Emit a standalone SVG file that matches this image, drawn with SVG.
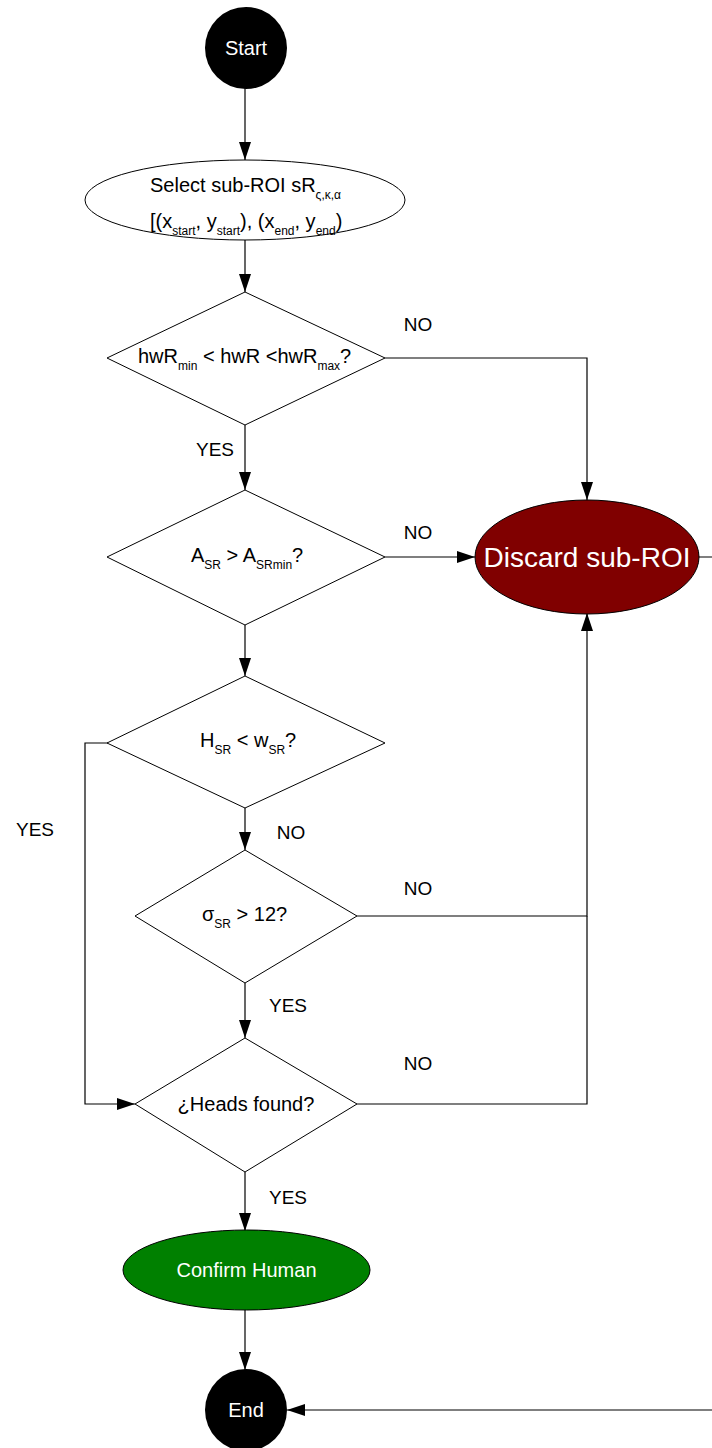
<svg xmlns="http://www.w3.org/2000/svg" width="712" height="1448" viewBox="0 0 712 1448">
<style>
.t{font-family:"Liberation Sans",Arial,sans-serif;font-size:20px;fill:#000}
.l{font-size:19px}
.w{fill:#fff}
.s{font-size:12px}
.ln{fill:none;stroke:#000;stroke-width:1.2}
.sh{stroke:#000;stroke-width:1}
</style>
<defs>
<marker id="ah" markerWidth="18" markerHeight="12" refX="18" refY="6" orient="auto" markerUnits="userSpaceOnUse">
<path d="M0,0 L18,6 L0,12 Z" fill="#000"/>
</marker>
</defs>
<rect width="712" height="1448" fill="#fff"/>
<g id="connectors">
<path class="ln" d="M245,88 V160" marker-end="url(#ah)"/>
<path class="ln" d="M245,240 V292" marker-end="url(#ah)"/>
<path class="ln" d="M385,358 H587 V500" marker-end="url(#ah)"/>
<path class="ln" d="M245,425 V490" marker-end="url(#ah)"/>
<path class="ln" d="M385,557 H475" marker-end="url(#ah)"/>
<path class="ln" d="M245,625 V676" marker-end="url(#ah)"/>
<path class="ln" d="M108,743 H85 V1104 H135" marker-end="url(#ah)"/>
<path class="ln" d="M245,808 V850" marker-end="url(#ah)"/>
<path class="ln" d="M357,916 H587 V613" marker-end="url(#ah)"/>
<path class="ln" d="M245,983 V1038" marker-end="url(#ah)"/>
<path class="ln" d="M357,1104 H587 V916"/>
<path class="ln" d="M245,1172 V1231" marker-end="url(#ah)"/>
<path class="ln" d="M245,1310 V1370" marker-end="url(#ah)"/>
<path class="ln" d="M699,557 H720 V1410 H287" marker-end="url(#ah)"/>
<text class="t l" x="418" y="331" text-anchor="middle">NO</text>
<text class="t l" x="215" y="456" text-anchor="middle">YES</text>
<text class="t l" x="418" y="539" text-anchor="middle">NO</text>
<text class="t l" x="35" y="836" text-anchor="middle">YES</text>
<text class="t l" x="291" y="839" text-anchor="middle">NO</text>
<text class="t l" x="418" y="895" text-anchor="middle">NO</text>
<text class="t l" x="288" y="1012" text-anchor="middle">YES</text>
<text class="t l" x="418" y="1070" text-anchor="middle">NO</text>
<text class="t l" x="288" y="1204" text-anchor="middle">YES</text>
</g>
<g id="start">
<circle cx="246" cy="48" r="41" fill="#000"/>
<text class="t w" x="246" y="55" text-anchor="middle">Start</text>
</g>
<g id="select">
<ellipse class="sh" cx="245" cy="200" rx="160" ry="40" fill="#fff"/>
<text class="t" x="150" y="192">Select sub-ROI sR<tspan class="s" dy="7">ς,κ,α</tspan></text>
<text class="t" x="150" y="228">[(x<tspan class="s" dy="7">start</tspan><tspan dy="-7">, y</tspan><tspan class="s" dy="7">start</tspan><tspan dy="-7">), (x</tspan><tspan class="s" dy="7">end</tspan><tspan dy="-7">, y</tspan><tspan class="s" dy="7">end</tspan><tspan dy="-7">)</tspan></text>
</g>
<g id="d1">
<polygon class="sh" points="245,292 385,358 245,425 107,358" fill="#fff"/>
<text class="t" x="138" y="363">hwR<tspan class="s" dy="7">min</tspan><tspan dy="-7"> &lt; hwR &lt;hwR</tspan><tspan class="s" dy="7">max</tspan><tspan dy="-7">?</tspan></text>
</g>
<g id="d2">
<polygon class="sh" points="245,490 385,557 245,625 107,557" fill="#fff"/>
<text class="t" x="191" y="562">A<tspan class="s" dy="7">SR</tspan><tspan dy="-7"> &gt; A</tspan><tspan class="s" dy="7">SRmin</tspan><tspan dy="-7">?</tspan></text>
</g>
<g id="discard">
<ellipse class="sh" cx="587" cy="557" rx="112" ry="57" fill="#800000"/>
<text class="t w" x="587" y="567" text-anchor="middle" style="font-size:28px">Discard sub-ROI</text>
</g>
<g id="d3">
<polygon class="sh" points="245,676 385,743 245,808 107,743" fill="#fff"/>
<text class="t" x="200" y="747">H<tspan class="s" dy="7">SR</tspan><tspan dy="-7"> &lt; w</tspan><tspan class="s" dy="7">SR</tspan><tspan dy="-7">?</tspan></text>
</g>
<g id="d4">
<polygon class="sh" points="245,850 357,916 245,983 135,916" fill="#fff"/>
<text class="t" x="202" y="921">σ<tspan class="s" dy="7">SR</tspan><tspan dy="-7"> &gt; 12?</tspan></text>
</g>
<g id="d5">
<polygon class="sh" points="245,1038 357,1104 245,1172 135,1104" fill="#fff"/>
<text class="t" x="246" y="1111" text-anchor="middle">¿Heads found?</text>
</g>
<g id="confirm">
<ellipse class="sh" cx="246.5" cy="1270" rx="123.5" ry="40" fill="#008000"/>
<text class="t w" x="246.5" y="1277" text-anchor="middle">Confirm Human</text>
</g>
<g id="end">
<circle cx="246" cy="1410" r="41" fill="#000"/>
<text class="t w" x="246" y="1417" text-anchor="middle">End</text>
</g>
</svg>
